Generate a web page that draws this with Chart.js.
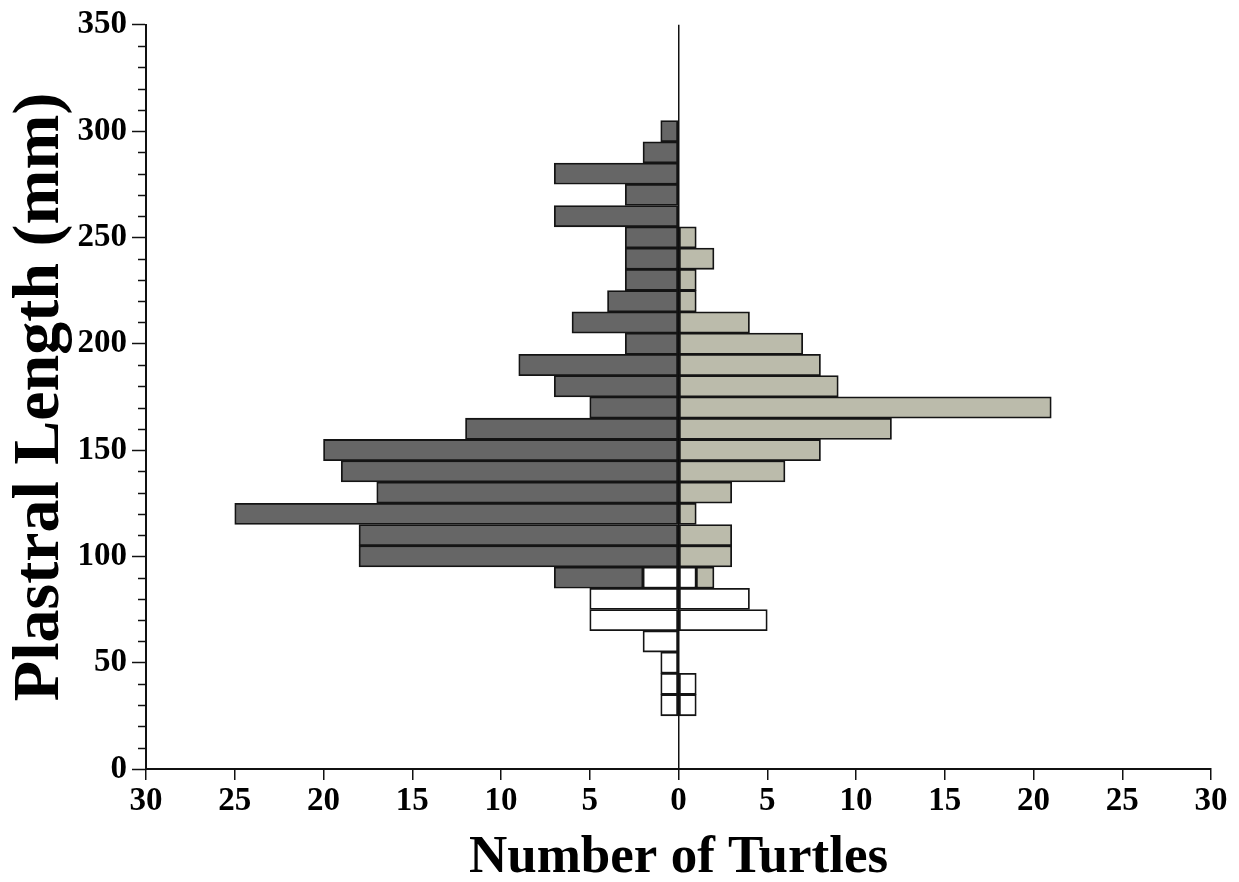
<!DOCTYPE html>
<html>
<head>
<meta charset="utf-8">
<title>Plastral length distribution</title>
<script src="https://cdn.jsdelivr.net/npm/chart.js@4.4.1/dist/chart.umd.min.js"></script>
<style>
  html, body { margin: 0; padding: 0; background: #ffffff; }
  #wrap { width: 1239px; height: 882px; }
</style>
</head>
<body>
<div id="wrap"><canvas id="chart" width="1239" height="882"></canvas></div>
<script>
// Size classes: plastral length (mm), 10 mm bins centred on these values
const lengthBins = [30, 40, 50, 60, 70, 80, 90, 100, 110, 120, 130, 140, 150, 160,
                    170, 180, 190, 200, 210, 220, 230, 240, 250, 260, 270, 280, 290, 300];

// Left half of the pyramid
const males         = [0, 0, 0, 0, 0, 0, 5, 18, 18, 25, 17, 19, 20, 12,
                       5, 7, 9, 3, 6, 4, 3, 3, 3, 7, 3, 7, 2, 1];
const juvenilesLeft = [1, 1, 1, 2, 5, 5, 2, 0, 0, 0, 0, 0, 0, 0,
                       0, 0, 0, 0, 0, 0, 0, 0, 0, 0, 0, 0, 0, 0];

// Right half of the pyramid
const females        = [0, 0, 0, 0, 0, 0, 1, 3, 3, 1, 3, 6, 8, 12,
                        21, 9, 8, 7, 4, 1, 1, 2, 1, 0, 0, 0, 0, 0];
const juvenilesRight = [1, 1, 0, 0, 5, 4, 1, 0, 0, 0, 0, 0, 0, 0,
                        0, 0, 0, 0, 0, 0, 0, 0, 0, 0, 0, 0, 0, 0];

const countTicks = [-30, -25, -20, -15, -10, -5, 0, 5, 10, 15, 20, 25, 30];
const lengthTicks = [0, 50, 100, 150, 200, 250, 300, 350];

const SERIF = "'Liberation Serif', 'Times New Roman', Times, serif";

// Left-hand counts are plotted as negatives; empty bins are skipped
function toPoints(values, sign) {
  return values.map((v, i) => ({ x: v === 0 ? null : sign * v, y: lengthBins[i] }));
}

function barSet(label, values, sign, fill) {
  return {
    label: label,
    data: toPoints(values, sign),
    backgroundColor: fill,
    borderColor: '#141414',
    borderWidth: 1.8,
    borderSkipped: false,
    stack: 'pyramid',
    barPercentage: 1.0,
    categoryPercentage: 1.0
  };
}

// Short minor ticks every 10 mm on the length axis
const minorTicks = {
  id: 'minorTicks',
  afterDraw(chart) {
    const y = chart.scales.y;
    const ctx = chart.ctx;
    ctx.save();
    ctx.strokeStyle = '#111111';
    ctx.lineWidth = 1.5;
    for (let v = y.min; v <= y.max; v += 10) {
      if (v % 50 === 0) continue;
      const py = Math.round(y.getPixelForValue(v)) + 0.5;
      ctx.beginPath();
      ctx.moveTo(y.right - 8, py);
      ctx.lineTo(y.right, py);
      ctx.stroke();
    }
    ctx.restore();
  }
};

new Chart(document.getElementById('chart'), {
  type: 'bar',
  data: {
    datasets: [
      barSet('Juveniles', juvenilesLeft, -1, '#ffffff'),
      barSet('Males', males, -1, '#666666'),
      barSet('Juveniles', juvenilesRight, 1, '#ffffff'),
      barSet('Females', females, 1, '#bbbbab')
    ]
  },
  options: {
    indexAxis: 'y',
    responsive: false,
    animation: false,
    devicePixelRatio: 1,
    layout: { padding: { top: 23, right: 28, left: 0, bottom: 0 } },
    plugins: {
      legend: { display: false },
      tooltip: { enabled: false }
    },
    scales: {
      x: {
        type: 'linear',
        position: 'bottom',
        stacked: true,
        offset: false,
        min: countTicks[0],
        max: countTicks[countTicks.length - 1],
        afterBuildTicks(scale) { scale.ticks = countTicks.map(v => ({ value: v })); },
        afterFit(scale) { scale.height = 113; },
        ticks: {
          callback: v => String(Math.abs(v)),
          color: '#000000',
          font: { family: SERIF, size: 33, weight: 'bold' },
          padding: 2,
          maxRotation: 0,
          autoSkip: false
        },
        grid: {
          offset: false,
          drawOnChartArea: true,
          color: ctx => (ctx.tick && ctx.tick.value === 0 ? '#111111' : 'rgba(0,0,0,0)'),
          lineWidth: 1.5,
          tickColor: '#111111',
          tickWidth: 1.5,
          tickLength: 11
        },
        border: { display: true, color: '#111111', width: 2 },
        title: {
          display: true,
          text: 'Number of Turtles',
          color: '#000000',
          font: { family: SERIF, size: 53, weight: 'bold', lineHeight: 0.9 },
          padding: { top: 0, bottom: 0 }
        }
      },
      y: {
        type: 'linear',
        position: 'left',
        stacked: true,
        offset: false,
        min: lengthTicks[0],
        max: lengthTicks[lengthTicks.length - 1],
        afterBuildTicks(scale) { scale.ticks = lengthTicks.map(v => ({ value: v })); },
        afterFit(scale) { scale.width = 146; },
        ticks: {
          color: '#000000',
          font: { family: SERIF, size: 33, weight: 'bold' },
          padding: 5
        },
        grid: {
          offset: false,
          drawOnChartArea: false,
          tickColor: '#111111',
          tickWidth: 1.5,
          tickLength: 14
        },
        border: { display: true, color: '#111111', width: 2 },
        title: {
          display: true,
          text: 'Plastral Length (mm)',
          color: '#000000',
          font: { family: SERIF, size: 66, weight: 'bold', lineHeight: 1 },
          padding: { top: 8, bottom: 0 }
        }
      }
    }
  },
  plugins: [minorTicks]
});
</script>
</body>
</html>
